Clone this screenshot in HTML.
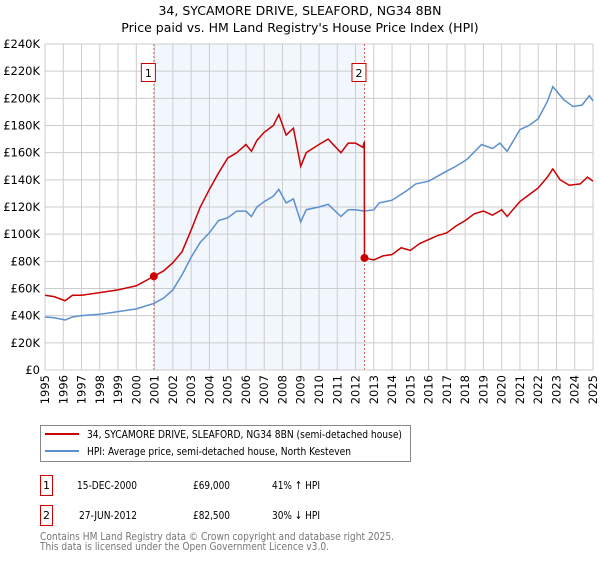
<!DOCTYPE html>
<html><head><meta charset="utf-8"><style>
body{margin:0;background:#fff;font-family:"Liberation Sans","DejaVu Sans",sans-serif;}
svg text{font-family:"DejaVu Sans","Liberation Sans",sans-serif;}
</style></head><body>
<svg id="chart" width="600" height="560" xmlns="http://www.w3.org/2000/svg">
<text x="300" y="15" text-anchor="middle" font-size="12.5">34, SYCAMORE DRIVE, SLEAFORD, NG34 8BN</text>
<text x="300" y="32" text-anchor="middle" font-size="12.5">Price paid vs. HM Land Registry's House Price Index (HPI)</text>
<g id="plot"></g>
<g>
<rect x="40.5" y="425.5" width="370" height="36" fill="#fff" stroke="#888"/>
<line x1="45" y1="434" x2="79" y2="434" stroke="#cc0000" stroke-width="2"/>
<text x="87" y="438" font-size="11" font-family="Liberation Sans" textLength="315" lengthAdjust="spacingAndGlyphs">34, SYCAMORE DRIVE, SLEAFORD, NG34 8BN (semi-detached house)</text>
<line x1="45" y1="451" x2="79" y2="451" stroke="#5b8fd0" stroke-width="2"/>
<text x="87" y="455" font-size="11" font-family="Liberation Sans" textLength="264" lengthAdjust="spacingAndGlyphs">HPI: Average price, semi-detached house, North Kesteven</text>
</g>
<g font-size="11" font-family="Liberation Sans">
<rect x="40.5" y="475.5" width="12" height="20" fill="#fff" stroke="#cc0000"/>
<text x="46.5" y="489" text-anchor="middle">1</text>
<text x="77" y="489" textLength="60" lengthAdjust="spacingAndGlyphs">15-DEC-2000</text><text x="193" y="489" textLength="37" lengthAdjust="spacingAndGlyphs">£69,000</text><text x="272" y="489" textLength="48" lengthAdjust="spacingAndGlyphs">41% ↑ HPI</text>
<rect x="40.5" y="505.5" width="12" height="20" fill="#fff" stroke="#cc0000"/>
<text x="46.5" y="519" text-anchor="middle">2</text>
<text x="79" y="519" textLength="58" lengthAdjust="spacingAndGlyphs">27-JUN-2012</text><text x="193" y="519" textLength="37" lengthAdjust="spacingAndGlyphs">£82,500</text><text x="272" y="519" textLength="48" lengthAdjust="spacingAndGlyphs">30% ↓ HPI</text>
</g>
<text x="40" y="540" font-size="11" font-family="Liberation Sans" fill="#777" textLength="354" lengthAdjust="spacingAndGlyphs">Contains HM Land Registry data © Crown copyright and database right 2025.</text>
<text x="40" y="550" font-size="11" font-family="Liberation Sans" fill="#777" textLength="289" lengthAdjust="spacingAndGlyphs">This data is licensed under the Open Government Licence v3.0.</text>
</svg>
<script>
const yTicks=[0,20,40,60,80,100,120,140,160,180,200,220,240];
const years=[1995,1996,1997,1998,1999,2000,2001,2002,2003,2004,2005,2006,2007,2008,2009,2010,2011,2012,2013,2014,2015,2016,2017,2018,2019,2020,2021,2022,2023,2024,2025];
const hpiT=[1995,1995.5,1996.1,1996.5,1997,1998,1999,2000,2000.96,2001.5,2002,2002.5,2003,2003.5,2004,2004.5,2005,2005.5,2006,2006.3,2006.6,2007,2007.5,2007.8,2008.2,2008.6,2009,2009.3,2010,2010.5,2011.2,2011.6,2012,2012.49,2013,2013.3,2014,2014.8,2015.3,2016,2016.8,2017.5,2018.1,2018.9,2019.5,2019.9,2020.3,2021,2021.5,2022,2022.5,2022.8,2023.4,2023.9,2024.4,2024.8,2025];
const hpiV=[39,38.5,36.8,39,40,41,43,45,49,53,59,70,83,94,101,110,112,117,117,113,120,124,128,133,123,126,109,118,120,122,113,118,118,117,118,123,125,132,137,139,145,150,155,166,163,167,161,177,180,185,197.6,208.6,199,194,195,202,198];
const saleT=[1995,1995.5,1996.1,1996.5,1997,1998,1999,2000,2000.96,2001.5,2002,2002.5,2003,2003.5,2004,2004.5,2005,2005.5,2006,2006.3,2006.6,2007,2007.5,2007.8,2008.2,2008.6,2009,2009.3,2010,2010.5,2011.2,2011.6,2012,2012.4,2012.48,2012.49,2013,2013.5,2014,2014.5,2015,2015.5,2016,2016.5,2017,2017.5,2018,2018.5,2019,2019.5,2020,2020.3,2021,2021.5,2022,2022.5,2022.8,2023.2,2023.7,2024.3,2024.7,2025];
const saleV=[55,54,51,55,55,57,59,62,69,73,79,87,103,120,133,145,156,160,166,161,169,175,180,188,173,178,150,160,166,170,160,167,167,164,168,82.5,81,84,85,90,88,93,96,99,101,106,110,115,117,114,118,113,124,129,134,142,148,140,136,137,142,139];
const sales=[{t:2000.96,v:69,label:'1'},{t:2012.49,v:82.5,label:'2'}];
const X0=45,X1=593,Y0=370,Y1=44;
const xs=t=>X0+(t-1995)/30*(X1-X0);
const ys=v=>Y0-v/240*(Y0-Y1);
const NS='http://www.w3.org/2000/svg';
const g=document.getElementById('plot');
function mk(tag,attrs){const e=document.createElementNS(NS,tag);for(const k in attrs)e.setAttribute(k,attrs[k]);g.appendChild(e);return e;}
let r=mk('rect',{x:xs(sales[0].t),y:Y1,width:xs(sales[1].t)-xs(sales[0].t),height:Y0-Y1,fill:'#eef3fc',opacity:0.75});


yTicks.forEach(v=>{
 let l=mk('line',{x1:X0,x2:X1,y1:ys(v),y2:ys(v),stroke:'#cccccc'});
 
 
 let t=mk('text',{x:X0-5,y:ys(v)+4,'text-anchor':'end','font-size':'11.5'});
 t.textContent=v===0?'£0':'£'+v+'K';
 
 
});
years.forEach(y=>{
 let l=mk('line',{x1:xs(y),x2:xs(y),y1:Y1,y2:Y0,stroke:'#cccccc'});
 
 
 let t=mk('text',{x:0,y:0,'text-anchor':'end','font-size':'11.5',transform:`translate(${xs(y)+4},375) rotate(-90)`});
 t.textContent=y;
 
 
});
sales.forEach(s=>{
 let l=mk('line',{x1:xs(s.t),x2:xs(s.t),y1:Y1,y2:Y0,stroke:'#e06060','stroke-dasharray':'2,2'});
 
 
 let b=mk('rect',{x:xs(s.t)-12.5,y:63.5,width:14,height:18,fill:'#fff',stroke:'#cc0000'});
 
 
 let t=mk('text',{x:xs(s.t)-5.5,y:77,'text-anchor':'middle','font-size':'11'});
 t.textContent=s.label;
 
 
});
let hp=mk('polyline',{points:hpiT.map((t,i)=>xs(t)+','+ys(hpiV[i])).join(' '),fill:'none',stroke:'#5b8fd0','stroke-width':1.5});


let sp=mk('polyline',{points:saleT.map((t,i)=>xs(t)+','+ys(saleV[i])).join(' '),fill:'none',stroke:'#cc0000','stroke-width':1.5});


sales.forEach(s=>{
 let c=mk('circle',{cx:xs(s.t),cy:ys(s.v),r:4,fill:'#cc0000'});
 
 
});
let ax=mk('line',{x1:X0,x2:X1,y1:Y0,y2:Y0,stroke:'#cccccc'});


</script>
</body></html>
